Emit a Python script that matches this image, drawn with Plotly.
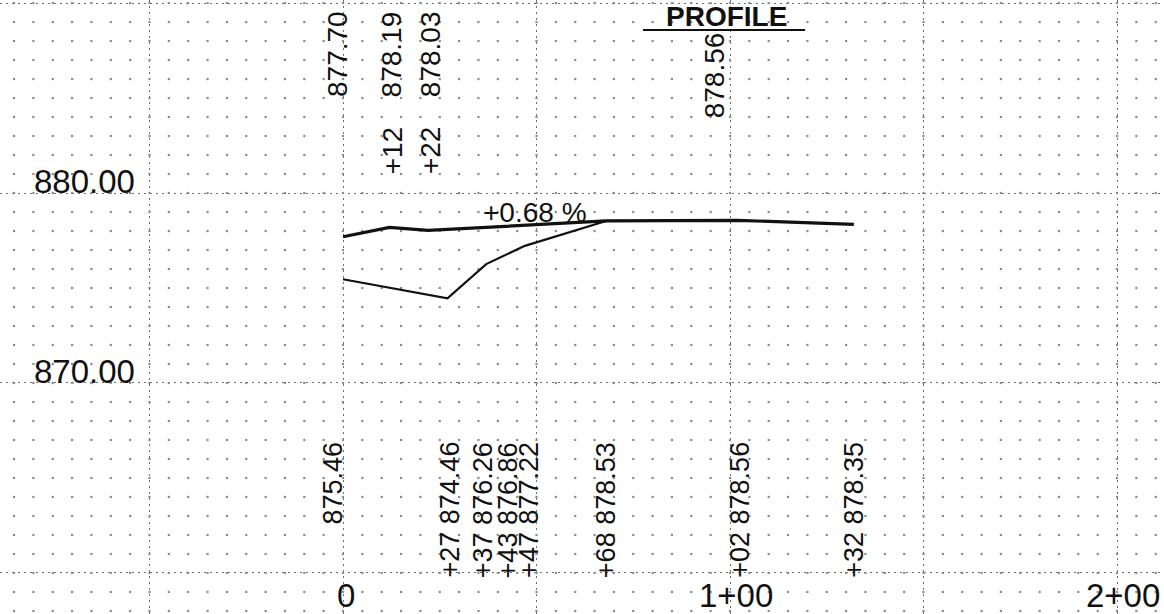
import numpy as np
import plotly.graph_objects as go

# ---- data (stations in feet, elevations in feet) ----
proposed_station = [0, 12, 22, 68, 102, 132]
proposed_elev = [877.70, 878.19, 878.03, 878.53, 878.56, 878.35]

existing_station = [0, 27, 37, 43, 47, 68]
existing_elev = [875.46, 874.46, 876.26, 876.86, 877.22, 878.53]

# labels along the bottom (existing ground)
bottom_station = [0, 27, 37, 43, 47, 68, 102, 132]
bottom_text = ["875.46", "+27 874.46", "+37 876.26", "+43 876.86", "+47 877.22",
               "+68 878.53", "+02 878.56", "+32 878.35"]

# labels along the top (proposed grade)
top_station = [0, 12, 22, 97]
top_value = ["877.70", "878.19", "878.03", "878.56"]
top_sta_text = ["", "+12", "+22", ""]

elev_ticks = [880, 870]
elev_tick_text = ["880.00", "870.00"]
sta_ticks = [0, 100, 200]
sta_tick_text = ["0", "1+00", "2+00"]

grade_text = "+0.68 %"
title_text = "PROFILE"

# ---- styling / label placement (pixel nudges) ----
bottom_dx = [-10, 2, -3, -1, 4, 0, 2, 0]
top_dx = [-5, 3, 3, -4]
top_base = [884.95, 884.95, 884.95, 883.85]

FONT = "Liberation Sans"
INK = "#111111"

fig = go.Figure()

# dotted paper grid (1 ft vertical x 5 ft horizontal)
gx, gy = np.meshgrid(np.arange(-85, 215, 5), np.arange(858, 891, 1))
fig.add_trace(go.Scatter(x=gx.ravel(), y=gy.ravel(), mode="markers",
                         marker=dict(symbol="square", size=2.2, color="#8c8c8c"),
                         hoverinfo="skip", showlegend=False))

fig.add_trace(go.Scatter(x=existing_station, y=existing_elev, mode="lines",
                         line=dict(color=INK, width=2.2), showlegend=False))
fig.add_trace(go.Scatter(x=proposed_station, y=proposed_elev, mode="lines",
                         line=dict(color=INK, width=3.2), showlegend=False))

ann = []
for s, t, dx in zip(bottom_station, bottom_text, bottom_dx):
    ann.append(dict(x=s, y=867.0, xref="x", yref="y", text=t, textangle=-90,
                    showarrow=False, xanchor="center", yanchor="top", xshift=dx,
                    font=dict(family=FONT, size=27, color=INK)))
for s, v, st, dx, b in zip(top_station, top_value, top_sta_text, top_dx, top_base):
    ann.append(dict(x=s, y=b, xref="x", yref="y", text=v, textangle=-90,
                    showarrow=False, xanchor="center", yanchor="bottom", xshift=dx,
                    font=dict(family=FONT, size=28, color=INK)))
    if st:
        ann.append(dict(x=s, y=880.9, xref="x", yref="y", text=st, textangle=-90,
                        showarrow=False, xanchor="center", yanchor="bottom", xshift=dx,
                        font=dict(family=FONT, size=28, color=INK)))
for e, t in zip(elev_ticks, elev_tick_text):
    ann.append(dict(x=-66.7, y=e + 0.6, xref="x", yref="y", text=t,
                    showarrow=False, xanchor="center", yanchor="middle",
                    font=dict(family=FONT, size=33, color=INK)))
for s, t in zip(sta_ticks, sta_tick_text):
    ann.append(dict(x=s, y=858.79, xref="x", yref="y", text=t,
                    showarrow=False, xanchor="center", yanchor="middle",
                    xshift=6 if s else 3,
                    font=dict(family=FONT, size=33, color=INK)))
ann.append(dict(x=49.6, y=878.95, xref="x", yref="y", text=grade_text,
                showarrow=False, xanchor="center", yanchor="middle",
                font=dict(family=FONT, size=28, color=INK)))
ann.append(dict(x=99.0, y=889.3, xref="x", yref="y", text="<b>" + title_text + "</b>",
                showarrow=False, xanchor="center", yanchor="middle",
                font=dict(family=FONT, size=28, color=INK)))

fig.add_shape(type="line", x0=77.5, x1=119.4, y0=888.58, y1=888.58,
              xref="x", yref="y", line=dict(color=INK, width=2))

fig.update_layout(
    width=1164, height=614,
    margin=dict(l=0, r=0, t=0, b=0),
    paper_bgcolor="white", plot_bgcolor="white",
    annotations=ann,
    xaxis=dict(range=[-88.63, 212.14], dtick=50, tick0=0, showgrid=True,
               gridcolor="#6e6e6e", gridwidth=1.3, griddash="1.5px,4.5px",
               showticklabels=False, zeroline=False, ticks=""),
    yaxis=dict(range=[857.84, 890.16], dtick=10, tick0=860, showgrid=True,
               gridcolor="#6e6e6e", gridwidth=1.3, griddash="1.5px,4.5px",
               showticklabels=False, zeroline=False, ticks=""),
)

fig.write_html("out.html", config={"displayModeBar": False},
               post_script="document.body.style.margin='0px';document.body.style.overflow='hidden';")
